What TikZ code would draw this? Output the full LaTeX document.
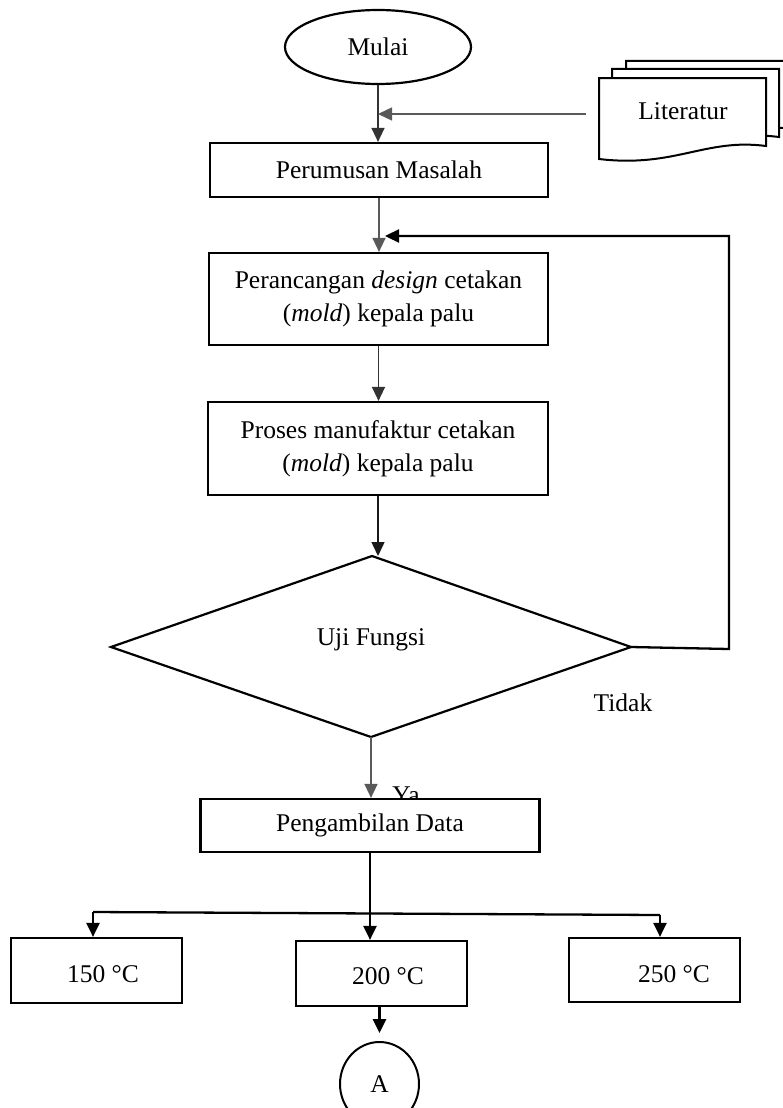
\documentclass[tikz,border=0pt]{standalone}
\usepackage{fontspec}
\setmainfont{Liberation Serif}
\usetikzlibrary{arrows.meta,shapes.geometric}
\begin{document}
\begin{tikzpicture}[x=1pt,y=-1pt,
  every node/.style={font=\fontsize{25.5}{33}\selectfont},
  box/.style={draw=black, line width=2.2pt, fill=white, inner sep=0pt},
  plain/.style={inner sep=0pt},
  thinln/.style={draw=black!65, line width=1.5pt},
  thickln/.style={draw=black, line width=2.3pt},
  tri/.style={-{Triangle[length=14pt,width=13pt]}},
  docshape/.style={draw=black, line width=2pt, fill=white}
  ]
\useasboundingbox (0,0) rectangle (783,1108);

% start
\node[draw, ellipse, line width=2.2pt, minimum width=186pt, minimum height=74pt, inner sep=0pt] (mulai) at (378,47) {Mulai};

% literature (multi-document)
\foreach \dx/\dy in {27/-17, 13/-9, 0/0} {
  \draw[docshape, shift={(\dx,\dy)}] (599,78) -- (766,78) -- (766,146)
    .. controls (705,138) and (675,168) .. (599,159) -- cycle;
}
\node[plain] (lit) at (683,111) {Literatur};
\coordinate (litout) at (586,114);

% process boxes
\node[box, minimum width=338pt, minimum height=54pt] (per) at (379,170) {Perumusan Masalah};
\node[box, minimum width=339pt, minimum height=92pt, align=center] (des) at (378.5,299)
  {Perancangan \textit{design} cetakan\\(\textit{mold}) kepala palu};
\node[box, minimum width=340pt, minimum height=93pt, align=center] (man) at (378,448.5)
  {Proses manufaktur cetakan\\(\textit{mold}) kepala palu};

% decision
\coordinate (dT) at (372,556);
\coordinate (dL) at (111,647);
\coordinate (dR) at (631,647);
\coordinate (dB) at (371,737);
\draw[draw=black, line width=2.2pt, line join=miter] (dT) -- (dR) -- (dB) -- (dL) -- cycle;
\node[plain] (uji) at (371,640) {Uji Fungsi};
\node[plain] (tidak) at (623,703) {Tidak};

% Ya label (partly hidden by box top)
\node[plain, anchor=base] (ya) at (406,803) {Ya};
\node[box, minimum width=339pt, minimum height=53pt] (data) at (370,825.5) {};
\node[plain] (datat) at (370,825) {Pengambilan Data};

% temperature boxes
\node[box, minimum width=171pt, minimum height=65pt] (t150) at (96.5,970.5) {};
\node[box, minimum width=171pt, minimum height=65pt] (t200) at (381.5,973.5) {};
\node[box, minimum width=171pt, minimum height=64pt] (t250) at (654.5,970) {};
\node[plain] (t150t) at (103,974) {150 °C};
\node[plain] (t200t) at (388,976) {200 °C};
\node[plain] (t250t) at (674,974) {250 °C};

% connector A
\node[draw, ellipse, line width=2pt, minimum width=79pt, minimum height=84pt, inner sep=0pt] (aA) at (379.5,1084) {A};

% connectors
\draw[thinln, draw=black!80, tri] (mulai.south) -- (mulai.south |- per.north);
\draw[thinln, tri] (litout) -- (mulai.south |- litout);
\draw[thinln, tri] (per.south) -- (per.south |- des.north);
\draw[thinln, draw=black!80, tri] (des.south) -- (des.south |- man.north);
\draw[thinln, draw=black!90, tri] (man.south) -- (man.south |- dT);
\draw[thinln, tri] (dB) -- (dB |- data.north);

\coordinate (fbA) at (729,649);
\coordinate (fbB) at (729,236);
\coordinate (fbIn) at (385,236);
\draw[thickln, tri] (dR) -- (fbA) -- (fbB) -- (fbIn);

\coordinate (jl) at (93,912);
\coordinate (jr) at (660,915);
\draw[thickln] (jl) -- (jr);
\draw[thickln, tri] (data.south) -- (data.south |- t200.north);
\draw[thickln, tri] (jl) -- (jl |- t150.north);
\draw[thickln, tri] (jr) -- (jr |- t250.north);
\draw[thickln, tri] (t200.south -| aA.north) -- ++(0,26);
\end{tikzpicture}
\end{document}
